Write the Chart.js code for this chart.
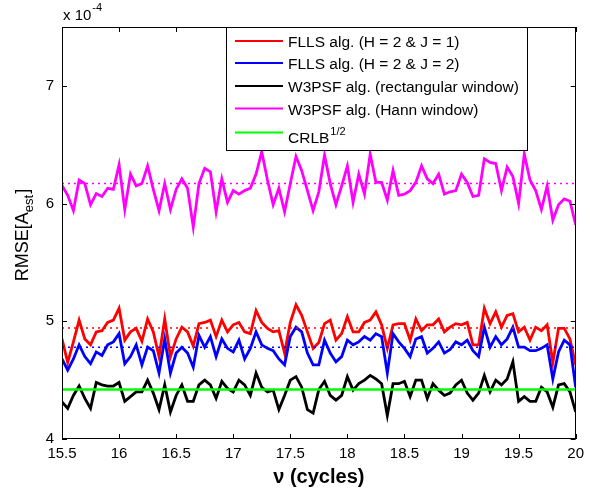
<!DOCTYPE html>
<html><head><meta charset="utf-8">
<script src="https://cdn.jsdelivr.net/npm/chart.js@4.4.0/dist/chart.umd.min.js"></script>
<style>html,body{margin:0;padding:0;background:#fff;}canvas{display:block;}</style>
</head><body>
<canvas id="c" width="590" height="492"></canvas>
<script>
// frequency axis (cycles)
const nu = [15.5,15.55,15.6,15.65,15.7,15.75,15.8,15.85,15.9,15.95,
16,16.05,16.1,16.15,16.2,16.25,16.3,16.35,16.4,16.45,
16.5,16.55,16.6,16.65,16.7,16.75,16.8,16.85,16.9,16.95,
17,17.05,17.1,17.15,17.2,17.25,17.3,17.35,17.4,17.45,
17.5,17.55,17.6,17.65,17.7,17.75,17.8,17.85,17.9,17.95,
18,18.05,18.1,18.15,18.2,18.25,18.3,18.35,18.4,18.45,
18.5,18.55,18.6,18.65,18.7,18.75,18.8,18.85,18.9,18.95,
19,19.05,19.1,19.15,19.2,19.25,19.3,19.35,19.4,19.45,
19.5,19.55,19.6,19.65,19.7,19.75,19.8,19.85,19.9,19.95,
20];

// RMSE values (x 1e-4)
const fllsJ1 = [4.85,4.65,4.825,5.01,4.85,4.80,4.91,4.92,4.99,5.01,
5.11,4.84,4.91,4.94,4.83,5.02,4.91,4.70,5.02,4.70,
4.85,4.95,4.91,4.79,4.98,4.99,5.01,4.87,5.01,4.91,
4.97,4.99,4.91,4.895,5.09,4.99,4.94,4.91,4.92,4.73,
4.99,5.14,5.05,4.91,4.77,4.82,4.98,5.01,4.84,4.895,
5.04,4.91,4.91,4.99,5.01,5.08,4.97,4.77,4.97,4.98,
4.98,4.84,5.02,4.92,4.97,4.97,5.02,4.91,4.95,4.98,
4.97,4.99,4.80,4.80,5.11,4.98,5.08,4.95,5.05,5.065,
4.91,4.95,4.84,4.95,4.92,4.97,4.65,4.94,4.94,4.85,
4.63];
const fllsJ2 = [4.68,4.585,4.68,4.80,4.70,4.64,4.74,4.71,4.80,4.825,
4.895,4.64,4.70,4.80,4.63,4.78,4.75,4.56,4.85,4.56,
4.73,4.78,4.73,4.61,4.88,4.78,4.87,4.70,4.85,4.77,
4.74,4.84,4.68,4.77,4.91,4.80,4.77,4.75,4.68,4.63,
4.87,4.95,4.91,4.73,4.63,4.63,4.84,4.73,4.655,4.70,
4.84,4.80,4.825,4.87,4.84,4.895,4.87,4.56,4.895,4.825,
4.77,4.70,4.85,4.87,4.73,4.77,4.825,4.73,4.76,4.825,
4.80,4.84,4.75,4.70,4.95,4.78,4.87,4.80,4.85,4.95,
4.78,4.78,4.75,4.75,4.77,4.80,4.51,4.74,4.84,4.80,
4.44];
const w3psfRect = [4.316,4.26,4.37,4.45,4.345,4.26,4.48,4.46,4.45,4.45,
4.48,4.32,4.36,4.40,4.40,4.50,4.39,4.25,4.46,4.23,
4.37,4.46,4.32,4.32,4.46,4.50,4.46,4.345,4.49,4.43,
4.40,4.50,4.46,4.37,4.56,4.44,4.40,4.415,4.25,4.37,
4.50,4.53,4.44,4.25,4.22,4.42,4.49,4.37,4.33,4.37,
4.53,4.415,4.47,4.50,4.54,4.51,4.47,4.20,4.47,4.47,
4.49,4.36,4.50,4.50,4.345,4.47,4.415,4.37,4.39,4.46,
4.50,4.39,4.33,4.39,4.54,4.40,4.50,4.46,4.51,4.655,
4.32,4.36,4.32,4.32,4.44,4.40,4.27,4.46,4.47,4.40,
4.23];
const w3psfHann = [6.155,6.07,5.94,6.20,6.17,5.99,6.085,6.06,6.13,6.12,
6.33,5.95,6.25,6.15,6.17,6.32,6.12,5.94,6.17,5.95,
6.12,6.21,6.13,5.80,6.17,6.30,6.27,5.93,6.21,6.01,
6.11,6.08,6.11,6.13,6.25,6.44,6.20,5.99,6.13,5.93,
6.17,6.40,6.28,6.11,5.94,6.10,6.41,6.17,5.99,6.15,
6.32,6.01,6.25,6.08,6.42,6.18,6.18,6.03,6.28,6.07,
6.08,6.11,6.18,6.32,6.21,6.17,6.25,6.08,6.10,6.11,
6.25,6.18,6.06,6.07,6.38,6.35,6.34,6.11,6.31,6.23,
6.00,6.42,6.20,6.11,5.95,6.15,5.86,5.99,6.04,6.02,
5.82];
const crlbSqrt = 4.42;
const meanFllsJ1 = 4.943;
const meanFllsJ2 = 4.78;
const meanHann = 6.17;

const xTicks = [15.5,16,16.5,17,17.5,18,18.5,19,19.5,20];
const yTicks = [4,5,6,7];
const legendLabels = ['FLLS alg. (H = 2 & J = 1)','FLLS alg. (H = 2 & J = 2)','W3PSF alg. (rectangular window)','W3PSF alg. (Hann window)','CRLB'];
const seriesColors = ['#ff0000','#0000ff','#000000','#ff00ff','#00ff00'];

const FONT = "'Liberation Sans', Arial, sans-serif";
Chart.defaults.font.family = FONT;

const pts = arr => arr.map((v,i)=>({x:nu[i], y:v}));
const flat = v => [{x:nu[0], y:v},{x:nu[nu.length-1], y:v}];

const lineDs = (data,color,order,w) => ({data, borderColor:color, backgroundColor:color, borderWidth:w, pointRadius:0, tension:0, fill:false, order});
const dotDs = (data,color) => ({data, borderColor:color, borderWidth:1.6, borderDash:[2,4], pointRadius:0, fill:false, order:0});

const framePlugin = {
  id:'frame',
  afterDatasetsDraw(chart){
    const {ctx, chartArea:a, scales:{x,y}} = chart;
    ctx.save();
    ctx.strokeStyle = '#000';
    ctx.lineWidth = 1;
    ctx.strokeRect(Math.round(a.left)+0.5, Math.round(a.top)+0.5, Math.round(a.right-a.left)-1, Math.round(a.bottom-a.top)-1);
    ctx.beginPath();
    xTicks.forEach(v=>{
      const px = Math.round(x.getPixelForValue(v))+0.5;
      ctx.moveTo(px, a.bottom); ctx.lineTo(px, a.bottom-5);
      ctx.moveTo(px, a.top); ctx.lineTo(px, a.top+5);
    });
    yTicks.forEach(v=>{
      const py = Math.round(y.getPixelForValue(v))+0.5;
      ctx.moveTo(a.left, py); ctx.lineTo(a.left+5, py);
      ctx.moveTo(a.right, py); ctx.lineTo(a.right-5, py);
    });
    ctx.stroke();
    ctx.restore();
  },
  afterDraw(chart){
    const {ctx, chartArea:a} = chart;
    ctx.save();
    // legend box
    const lx = 226, ly = a.top, lw = 301, lh = 123;
    ctx.fillStyle = '#fff';
    ctx.fillRect(lx, ly, lw, lh);
    ctx.strokeStyle = '#000'; ctx.lineWidth = 1;
    ctx.strokeRect(lx+0.5, ly+0.5, lw, lh);
    const rowY = [41, 63, 86, 108.5, 132.5];
    ctx.textBaseline = 'alphabetic';
    ctx.textAlign = 'left';
    legendLabels.forEach((lab,i)=>{
      ctx.strokeStyle = seriesColors[i]; ctx.lineWidth = 2;
      ctx.beginPath(); ctx.moveTo(235, rowY[i]); ctx.lineTo(283, rowY[i]); ctx.stroke();
      ctx.fillStyle = '#000';
      ctx.font = '15.5px ' + FONT;
      const base = i===4 ? rowY[i]+10.5 : rowY[i]+6;
      ctx.fillText(lab, 288, base);
      if(i===4){
        const w = ctx.measureText(lab).width;
        ctx.font = '11px ' + FONT;
        ctx.fillText('1/2', 288+w+1, base-8);
      }
    });
    // exponent label
    ctx.fillStyle = '#000';
    ctx.font = '15px ' + FONT;
    ctx.fillText('x 10', 63, 20);
    const w10 = ctx.measureText('x 10').width;
    ctx.font = '11px ' + FONT;
    ctx.fillText('-4', 63+w10+1, 11);
    // x title
    ctx.font = 'bold 20px ' + FONT;
    ctx.textAlign = 'center';
    ctx.fillText('\u03bd (cycles)', (a.left+a.right)/2, 483);
    // y title
    ctx.translate(28, (a.top+a.bottom)/2 + 2);
    ctx.rotate(-Math.PI/2);
    ctx.textAlign = 'left';
    ctx.font = '18px ' + FONT;
    const m1 = 'RMSE[A', sub = 'est', m2 = ']';
    const w1 = ctx.measureText(m1).width, w2 = ctx.measureText(m2).width;
    ctx.font = '13px ' + FONT;
    const ws = ctx.measureText(sub).width;
    const total = w1 + ws + w2 + 1;
    let cx = -total/2;
    ctx.font = '18px ' + FONT;
    ctx.fillText(m1, cx, 0); cx += w1;
    ctx.font = '13px ' + FONT;
    ctx.fillText(sub, cx, 5); cx += ws + 1;
    ctx.font = '18px ' + FONT;
    ctx.fillText(m2, cx, 0);
    ctx.restore();
  }
};

new Chart(document.getElementById('c'), {
  type:'line',
  data:{ datasets:[
    dotDs(flat(meanHann), seriesColors[3]),
    dotDs(flat(meanFllsJ1), seriesColors[0]),
    dotDs(flat(meanFllsJ2), seriesColors[1]),
    lineDs(flat(crlbSqrt), seriesColors[4], 1, 2.6),
    lineDs(pts(w3psfHann), seriesColors[3], 2, 2.8),
    lineDs(pts(w3psfRect), seriesColors[2], 3, 2.8),
    lineDs(pts(fllsJ2), seriesColors[1], 4, 2.8),
    lineDs(pts(fllsJ1), seriesColors[0], 5, 2.8)
  ]},
  options:{
    responsive:false, animation:false, devicePixelRatio:1,
    layout:{padding:{top:27, right:7, left:0, bottom:0}},
    plugins:{legend:{display:false}, tooltip:{enabled:false}},
    elements:{line:{borderCapStyle:'butt', borderJoinStyle:'miter'}},
    scales:{
      x:{type:'linear', min:15.5, max:20,
        afterBuildTicks:s=>{ s.ticks = xTicks.map(v=>({value:v})); },
        afterFit:s=>{ s.height = 53; },
        grid:{display:false, drawTicks:false}, border:{display:false},
        ticks:{color:'#000', font:{size:15}, padding:6, maxRotation:0, autoSkip:false, callback:v=>String(v)}},
      y:{type:'linear', min:4, max:7.5,
        afterBuildTicks:s=>{ s.ticks = yTicks.map(v=>({value:v})); },
        afterFit:s=>{ s.width = 62; },
        grid:{display:false, drawTicks:false}, border:{display:false},
        ticks:{color:'#000', font:{size:15}, padding:8, autoSkip:false, callback:v=>String(v)}}
    }
  },
  plugins:[framePlugin]
});
</script>
</body></html>
